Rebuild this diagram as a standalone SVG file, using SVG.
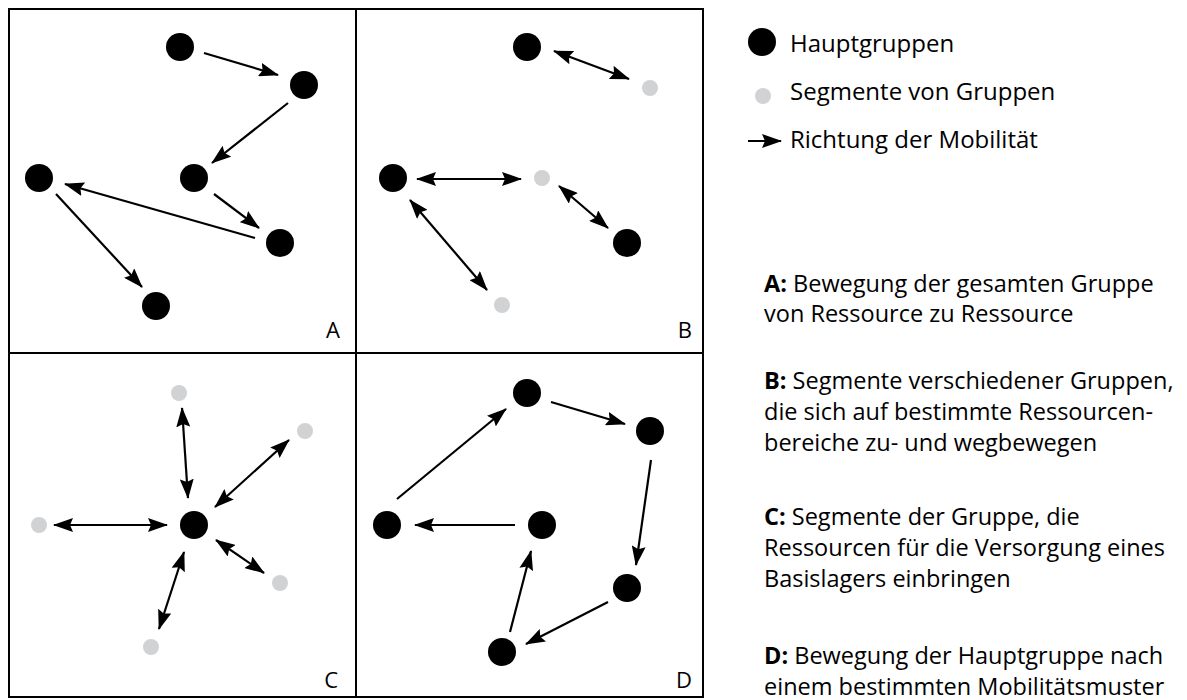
<svg xmlns="http://www.w3.org/2000/svg" width="1187" height="700" viewBox="0 0 1187 700">
<style>
.frame{fill:none;stroke:#000;stroke-width:2}
.main{fill:#000}
.seg{fill:#d1d2d4}
.conn line{stroke:#000;stroke-width:2.2;fill:none}
.one{marker-end:url(#ah)}
.two{marker-start:url(#ah);marker-end:url(#ah)}
text{font-family:"Open Sans","Noto Sans","Liberation Sans",sans-serif;fill:#000}
.lbl{font-size:22px;text-anchor:end}
.leg{font-size:24px}
.desc{font-size:23.5px}
.desc tspan.b{font-weight:bold}
</style>
<defs>
<marker id="ah" viewBox="0 0 20 14" markerWidth="20" markerHeight="14" refX="19" refY="7" orient="auto-start-reverse" markerUnits="userSpaceOnUse">
<path d="M0,0 L20,7 L0,14 L3,7 z" fill="#000"/>
</marker>
</defs>
<rect x="9" y="9" width="694" height="688" fill="#fff"/>
<g id="frame">
<rect class="frame" x="9" y="9" width="694" height="688"/>
<line class="frame" x1="356" y1="9" x2="356" y2="697"/>
<line class="frame" x1="9" y1="353" x2="703" y2="353"/>
</g>
<g id="panel-labels">
<text class="lbl" x="340" y="338">A</text>
<text class="lbl" x="692" y="338">B</text>
<text class="lbl" x="338" y="688">C</text>
<text class="lbl" x="692" y="688">D</text>
</g>
<g id="connectors" class="conn">
<line class="one" x1="204" y1="53" x2="278" y2="75"/>
<line class="one" x1="288" y1="103" x2="212" y2="163"/>
<line class="one" x1="214" y1="194" x2="259" y2="228"/>
<line class="one" x1="255" y1="238" x2="65" y2="184"/>
<line class="one" x1="56" y1="194" x2="142" y2="287"/>
<line class="two" x1="554" y1="51" x2="629" y2="79"/>
<line class="two" x1="417" y1="179" x2="521" y2="179"/>
<line class="two" x1="559" y1="186" x2="608" y2="228"/>
<line class="two" x1="410" y1="200" x2="487" y2="290"/>
<line class="two" x1="182" y1="408" x2="188" y2="498"/>
<line class="two" x1="289" y1="440" x2="215" y2="507"/>
<line class="two" x1="54" y1="525" x2="167" y2="525"/>
<line class="two" x1="216" y1="540" x2="264" y2="573"/>
<line class="two" x1="184" y1="552" x2="159" y2="629"/>
<line class="one" x1="397" y1="499" x2="506" y2="409"/>
<line class="one" x1="551" y1="402" x2="625" y2="424"/>
<line class="one" x1="651" y1="460" x2="636" y2="565"/>
<line class="one" x1="608" y1="602" x2="526" y2="644"/>
<line class="one" x1="510" y1="632" x2="531" y2="551"/>
<line class="one" x1="515" y1="525" x2="415" y2="525"/>
</g>
<g id="panelA">
<circle class="main" cx="180" cy="47" r="14"/>
<circle class="main" cx="304" cy="85" r="14"/>
<circle class="main" cx="194" cy="178" r="14"/>
<circle class="main" cx="39" cy="178" r="14"/>
<circle class="main" cx="280" cy="243" r="14"/>
<circle class="main" cx="156" cy="306" r="14"/>
</g>
<g id="panelB">
<circle class="main" cx="527" cy="47" r="14"/>
<circle class="seg" cx="650" cy="88" r="8"/>
<circle class="main" cx="393" cy="178" r="14"/>
<circle class="seg" cx="542" cy="178" r="8"/>
<circle class="main" cx="627" cy="243" r="14"/>
<circle class="seg" cx="502" cy="305" r="8"/>
</g>
<g id="panelC">
<circle class="main" cx="194" cy="525" r="14"/>
<circle class="seg" cx="179" cy="393" r="8"/>
<circle class="seg" cx="305" cy="431" r="8"/>
<circle class="seg" cx="39" cy="525" r="8"/>
<circle class="seg" cx="280" cy="583" r="8"/>
<circle class="seg" cx="151" cy="647" r="8"/>
</g>
<g id="panelD">
<circle class="main" cx="527" cy="393" r="14"/>
<circle class="main" cx="650" cy="431" r="14"/>
<circle class="main" cx="387" cy="525" r="14"/>
<circle class="main" cx="542" cy="525" r="14"/>
<circle class="main" cx="627" cy="588" r="14"/>
<circle class="main" cx="502" cy="652" r="14"/>
</g>
<g id="legend">
<circle class="main" cx="762" cy="42" r="14"/>
<text class="leg" x="790" y="52">Hauptgruppen</text>
<circle class="seg" cx="763" cy="96" r="8"/>
<text class="leg" x="790" y="100">Segmente von Gruppen</text>
<line x1="748" y1="141" x2="781" y2="141" stroke="#000" stroke-width="2.2" marker-end="url(#ah)"/>
<text class="leg" x="790" y="148">Richtung der Mobilität</text>
</g>
<g id="descriptions">
<text class="desc" x="764" y="292"><tspan class="b">A:</tspan> Bewegung der gesamten Gruppe</text>
<text class="desc" x="764" y="322">von Ressource zu Ressource</text>
<text class="desc" x="764" y="389"><tspan class="b">B:</tspan> Segmente verschiedener Gruppen,</text>
<text class="desc" x="764" y="420">die sich auf bestimmte Ressourcen-</text>
<text class="desc" x="764" y="451">bereiche zu- und wegbewegen</text>
<text class="desc" x="764" y="525"><tspan class="b">C:</tspan> Segmente der Gruppe, die</text>
<text class="desc" x="764" y="556">Ressourcen für die Versorgung eines</text>
<text class="desc" x="764" y="587">Basislagers einbringen</text>
<text class="desc" x="764" y="664"><tspan class="b">D:</tspan> Bewegung der Hauptgruppe nach</text>
<text class="desc" x="764" y="695">einem bestimmten Mobilitätsmuster</text>
</g>
</svg>
